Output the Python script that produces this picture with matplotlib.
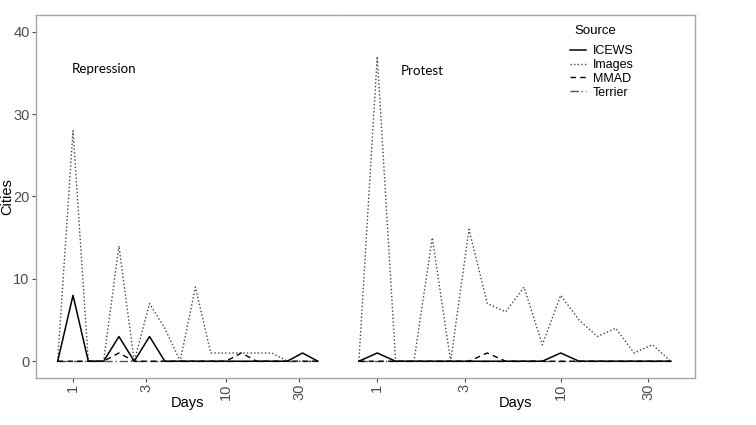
import numpy as np
import matplotlib
matplotlib.use("Agg")
import matplotlib.pyplot as plt
from matplotlib.lines import Line2D

plt.rcParams['font.family'] = ['Liberation Sans', 'DejaVu Sans']

# days on a log grid, 10^(k/10), k = -1..16
days = [0.794, 1.0, 1.259, 1.585, 1.995, 2.512, 3.162, 3.981, 5.012,
        6.310, 7.943, 10.0, 12.59, 15.85, 19.95, 25.12, 31.62, 39.81]

# Repression panel
rep_icews   = [0, 8, 0, 0, 3, 0, 3, 0, 0, 0, 0, 0, 0, 0, 0, 0, 1, 0]
rep_images  = [0, 28, 0, 0, 14, 0, 7, 4, 0, 9, 1, 1, 1, 1, 1, 0, 0, 0]
rep_mmad    = [0, 0, 0, 0, 1, 0, 0, 0, 0, 0, 0, 0, 1, 0, 0, 0, 0, 0]
rep_terrier = [0, 0, 0, 0, 0, 0, 0, 0, 0, 0, 0, 0, 0, 0, 0, 0, 0, 0]

# Protest panel
pro_icews   = [0, 1, 0, 0, 0, 0, 0, 0, 0, 0, 0, 1, 0, 0, 0, 0, 0, 0]
pro_images  = [0, 37, 0, 0, 15, 0, 16, 7, 6, 9, 2, 8, 5, 3, 4, 1, 2, 0]
pro_mmad    = [0, 0, 0, 0, 0, 0, 0, 1, 0, 0, 0, 0, 0, 0, 0, 0, 0, 0]
pro_terrier = [0, 0, 0, 0, 0, 0, 0, 0, 0, 0, 0, 0, 0, 0, 0, 0, 0, 0]

sources = ["ICEWS", "Images", "MMAD", "Terrier"]
styles = {
    "ICEWS":   dict(color='black', linestyle='-', linewidth=1.1),
    "Images":  dict(color='#444444', linestyle=(0, (1, 1.6)), linewidth=1.0),
    "MMAD":    dict(color='black', linestyle=(0, (4, 3)), linewidth=1.0),
    "Terrier": dict(color='#555555', linestyle=(0, (6, 2, 1, 2)), linewidth=1.0),
}

W, H = 756, 425
x0, xm, x1 = 36, 338, 695
ytop, ybot = 15.3, 377.7
frame_col = '#a6a6a6'
tick_col = '#4d4d4d'

fig = plt.figure(figsize=(W / 100, H / 100), dpi=100)
ax1 = fig.add_axes([x0 / W, 1 - ybot / H, (xm - x0) / W, (ybot - ytop) / H])
ax2 = fig.add_axes([xm / W, 1 - ybot / H, (x1 - xm) / W, (ybot - ytop) / H])

panels = [
    (ax1, [rep_icews, rep_images, rep_mmad, rep_terrier], "Repression", (0.119, 0.852), (0.573, 53.9)),
    (ax2, [pro_icews, pro_images, pro_mmad, pro_terrier], "Protest", (0.176, 0.846), (0.611, 53.96)),
]

for ax, series, label, pos, xlim in panels:
    for name, vals in zip(reversed(sources), reversed(series)):
        ax.plot(days, vals, **styles[name])
    ax.set_xscale('log')
    ax.set_xlim(*xlim)
    ax.set_ylim(-2, 42)
    ax.set_xticks([1, 3, 10, 30])
    ax.set_xticklabels(["1", "3", "10", "30"], rotation=90)
    ax.xaxis.set_minor_locator(matplotlib.ticker.NullLocator())
    ax.tick_params(axis='both', colors=tick_col, labelcolor=tick_col, labelsize=10.5,
                   length=3, width=0.8, pad=1.5)
    for sp in ax.spines.values():
        sp.set_color(frame_col)
        sp.set_linewidth(1.0)
    ax.text(pos[0], pos[1], label, transform=ax.transAxes, fontsize=9.6,
            family=['Lato', 'DejaVu Sans'], va='center', ha='left')

ax1.spines['right'].set_visible(False)
ax2.spines['left'].set_visible(False)
ax2.tick_params(axis='y', left=False, labelleft=False)
ax1.set_yticks([0, 10, 20, 30, 40])

# axis titles
fig.text(187 / W, 1 - 403 / H, "Days", fontsize=10.5, ha='center', va='center')
fig.text(516 / W, 1 - 403 / H, "Days", fontsize=10.5, ha='center', va='center')
fig.text(7.5 / W, 1 - 197 / H, "Cities", fontsize=10.5, rotation=90, ha='center', va='center')

# legend
fig.text(574 / W, 1 - 31 / H, "Source", fontsize=9.5, ha='left', va='center')
handles = [Line2D([], [], **styles[s]) for s in sources]
leg = ax2.legend(handles, sources, loc='upper left',
                 bbox_to_anchor=(570 / W, 1 - 45 / H), bbox_transform=fig.transFigure,
                 frameon=False, fontsize=9, handlelength=1.3,
                 handletextpad=0.5, labelspacing=0.15, borderaxespad=0,
                 borderpad=0)

fig.savefig("out.png", dpi=100)
